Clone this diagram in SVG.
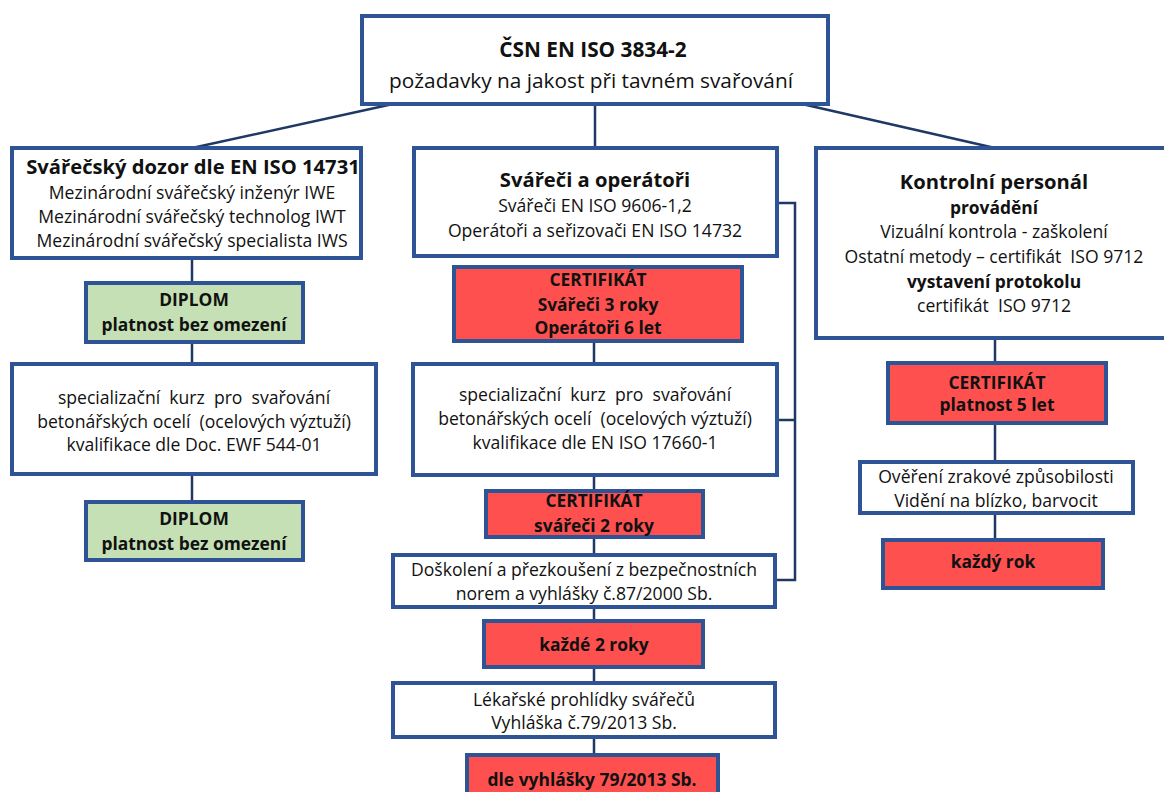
<svg xmlns="http://www.w3.org/2000/svg" width="1164" height="792" viewBox="0 0 1164 792">
<style>
.b{fill:#fff;stroke:#2F5496;stroke-width:4}
.r{fill:#FF5050;stroke:#2F5496;stroke-width:4}
.g{fill:#C5E0B4;stroke:#2F5496;stroke-width:4}
.c{fill:none;stroke:#1F3864;stroke-width:2.5}
text{font-family:"Open Sans","Liberation Sans",sans-serif;font-size:17.6px;fill:#111;text-anchor:middle;white-space:pre}
.t{font-weight:bold;font-size:20.2px}
.bd{font-weight:bold;font-size:17.4px}
.h{font-size:20.8px}
</style>
<g id="connectors">
<line class="c" x1="393" y1="104" x2="192" y2="148"/>
<line class="c" x1="595" y1="104" x2="595" y2="148"/>
<line class="c" x1="802" y1="104" x2="995" y2="148"/>
<line class="c" x1="192" y1="258" x2="192" y2="283"/>
<line class="c" x1="192" y1="342" x2="192" y2="364"/>
<line class="c" x1="192" y1="474" x2="192" y2="502"/>
<line class="c" x1="594" y1="341" x2="594" y2="364"/>
<line class="c" x1="594" y1="475" x2="594" y2="491"/>
<line class="c" x1="594" y1="537" x2="594" y2="555"/>
<line class="c" x1="594" y1="607" x2="594" y2="621"/>
<line class="c" x1="594" y1="667" x2="594" y2="683"/>
<line class="c" x1="594" y1="737" x2="594" y2="755"/>
<polyline class="c" points="777,203 795,203 795,580 775,580"/>
<line class="c" x1="777" y1="420" x2="795" y2="420"/>
<line class="c" x1="995" y1="338" x2="995" y2="363"/>
<line class="c" x1="995" y1="423" x2="995" y2="462"/>
<line class="c" x1="995" y1="513" x2="995" y2="540"/>
</g>
<g id="top">
<rect class="b" x="362" y="16" width="466" height="88"/>
<text x="593" y="57" class="t h">ČSN EN ISO 3834-2</text>
<text x="591" y="88" class="h">požadavky na jakost při tavném svařování</text>
</g>
<g id="dozor">
<rect class="b" x="12" y="148" width="349" height="110"/>
<text x="193" y="174" class="t">Svářečský dozor dle EN ISO 14731</text>
<text x="192" y="199">Mezinárodní svářečský inženýr IWE</text>
<text x="192" y="223">Mezinárodní svářečský technolog IWT</text>
<text x="192" y="247">Mezinárodní svářečský specialista IWS</text>
</g>
<g id="diplom1">
<rect class="g" x="86" y="283" width="217" height="59"/>
<text x="194" y="306" class="bd">DIPLOM</text>
<text x="194" y="331" class="bd">platnost bez omezení</text>
</g>
<g id="kurz1">
<rect class="b" x="12" y="364" width="364" height="110"/>
<text x="194" y="404">specializační  kurz  pro  svařování</text>
<text x="194" y="428">betonářských ocelí  (ocelových výztuží)</text>
<text x="194" y="451">kvalifikace dle Doc. EWF 544-01</text>
</g>
<g id="diplom2">
<rect class="g" x="86" y="502" width="217" height="58"/>
<text x="194" y="525" class="bd">DIPLOM</text>
<text x="194" y="550" class="bd">platnost bez omezení</text>
</g>
<g id="svareci">
<rect class="b" x="414" y="148" width="363" height="108"/>
<text x="595" y="187" class="t">Svářeči a operátoři</text>
<text x="595" y="212">Svářeči EN ISO 9606-1,2</text>
<text x="595" y="237">Operátoři a seřizovači EN ISO 14732</text>
</g>
<g id="cert1">
<rect class="r" x="454" y="267" width="288" height="74"/>
<text x="598" y="286" class="bd">CERTIFIKÁT</text>
<text x="598" y="311" class="bd">Svářeči 3 roky</text>
<text x="598" y="334" class="bd">Operátoři 6 let</text>
</g>
<g id="kurz2">
<rect class="b" x="413" y="364" width="364" height="111"/>
<text x="595" y="401">specializační  kurz  pro  svařování</text>
<text x="595" y="425">betonářských ocelí  (ocelových výztuží)</text>
<text x="595" y="449">kvalifikace dle EN ISO 17660-1</text>
</g>
<g id="cert2">
<rect class="r" x="486" y="491" width="217" height="46"/>
<text x="594" y="507" class="bd">CERTIFIKÁT</text>
<text x="594" y="532" class="bd">svářeči 2 roky</text>
</g>
<g id="doskoleni">
<rect class="b" x="393" y="555" width="382" height="52"/>
<text x="584" y="576">Doškolení a přezkoušení z bezpečnostních</text>
<text x="584" y="600">norem a vyhlášky č.87/2000 Sb.</text>
</g>
<g id="kazde2">
<rect class="r" x="484" y="621" width="219" height="46"/>
<text x="594" y="651" class="bd">každé 2 roky</text>
</g>
<g id="lekarske">
<rect class="b" x="393" y="683" width="382" height="54"/>
<text x="584" y="706">Lékařské prohlídky svářečů</text>
<text x="584" y="729">Vyhláška č.79/2013 Sb.</text>
</g>
<g id="dlevyhl">
<rect class="r" x="467" y="755" width="251" height="45"/>
<text x="592" y="786" class="bd">dle vyhlášky 79/2013 Sb.</text>
</g>
<g id="kontrolni">
<rect class="b" x="816" y="148" width="352" height="190"/>
<text x="994" y="189" class="t">Kontrolní personál</text>
<text x="994" y="214" class="bd">provádění</text>
<text x="994" y="238">Vizuální kontrola - zaškolení</text>
<text x="994" y="263">Ostatní metody – certifikát  ISO 9712</text>
<text x="994" y="288" class="bd">vystavení protokolu</text>
<text x="994" y="312">certifikát  ISO 9712</text>
</g>
<g id="cert5">
<rect class="r" x="888" y="363" width="218" height="60"/>
<text x="997" y="389" class="bd">CERTIFIKÁT</text>
<text x="997" y="411" class="bd">platnost 5 let</text>
</g>
<g id="zrak">
<rect class="b" x="860" y="462" width="273" height="51"/>
<text x="996" y="483">Ověření zrakové způsobilosti</text>
<text x="996" y="507">Vidění na blízko, barvocit</text>
</g>
<g id="kazdyrok">
<rect class="r" x="883" y="540" width="220" height="48"/>
<text x="993" y="568" class="bd">každý rok</text>
</g>
</svg>
